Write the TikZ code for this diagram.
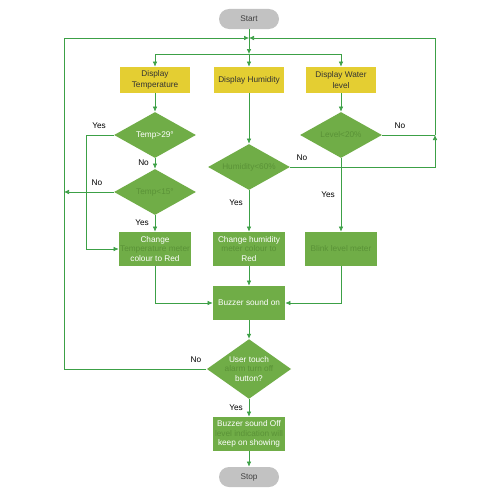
\documentclass[tikz,border=0pt]{standalone}
\usepackage{fontspec}
\setmainfont{Liberation Sans}
\usetikzlibrary{shapes.geometric,arrows.meta}
\definecolor{boxgreen}{RGB}{112,173,71}
\definecolor{linegreen}{RGB}{60,160,70}
\definecolor{dispyellow}{RGB}{228,206,50}
\definecolor{termgray}{RGB}{194,194,194}
\definecolor{faintgreen}{RGB}{90,146,55}
\newcommand{\faint}[1]{\textcolor{faintgreen}{#1}}

\begin{document}
\begin{tikzpicture}[x=0.2mm,y=-0.2mm,
    every node/.style={font=\fontsize{4.7}{5.5}\selectfont},
    box/.style={%
      rectangle,
      fill=boxgreen,
      text=white,
      minimum width=14.4mm,
      minimum height=6.8mm,
      inner sep=0pt,
      align=center,
    },
    dispbox/.style={%
      box,
      fill=dispyellow,
      text=black!80,
      minimum width=14mm,
      minimum height=5.2mm,
      font=\fontsize{4.7}{5.9}\selectfont,
    },
    cond/.style={%
      diamond,
      fill=boxgreen,
      text=white,
      aspect=1.78,
      minimum width=16.4mm,
      minimum height=9.2mm,
      inner sep=0pt,
      align=center,
    },
    term/.style={%
      rectangle,
      rounded corners=2mm,
      fill=termgray,
      text=black!75,
      minimum width=12mm,
      minimum height=4mm,
    },
    line/.style={draw=linegreen, line width=0.35pt},
    arr/.style={line, -{Latex[length=1mm,width=0.9mm]}},
  ]
    \fill[white] (0,0) rectangle (500,500);
    \useasboundingbox (0,0) rectangle (500,500);

    % terminals
    \node [term] (start) at (249,19) {Start};
    \node [term] (stop) at (249,477) {Stop};

    % display boxes
    \node [dispbox] (dtemp) at (155,80) {Display\\Temperature};
    \node [dispbox] (dhum) at (249,80) {Display Humidity};
    \node [dispbox] (dwat) at (341,80) {Display Water\\level};

    % decisions
    \node [cond] (t29) at (155,135) {Temp>29°};
    \node [cond] (t15) at (155,192) {\faint{Temp<15°}};
    \node [cond] (hum) at (249,167) {\faint{Humidity<60\%}};
    \node [cond] (lev) at (341,135) {\faint{Level<20\%}};
    \node [cond, aspect=1.41, minimum height=11.6mm] (touch) at (249,369)
      {User touch\\\faint{alarm turn off}\\button?};

    % actions
    \node [box] (ctemp) at (155,249) {Change\\\faint{Temperature meter}\\colour to Red};
    \node [box] (chum) at (249,249) {Change humidity\\\faint{meter colour to}\\Red};
    \node [box] (blink) at (341,249) {\faint{Blink level meter}};
    \node [box] (buzz) at (249,303) {Buzzer sound on};
    \node [box] (boff) at (249,434) {Buzzer sound Off\\\faint{level indication will}\\keep on showing};

    % junctions
    \coordinate (merge) at (249,38);
    \coordinate (split) at (249,54);
    \coordinate (loopL) at (64,38);
    \coordinate (loopR) at (435,135);
    \coordinate (yesL) at (86,135);

    \draw [line] (start) -- (merge);
    \draw [arr] (merge) -- (split);
    \draw [arr] (split) -| (dtemp);
    \draw [arr] (split) -- (dhum);
    \draw [arr] (split) -| (dwat);

    \draw [arr] (dtemp) -- (t29);
    \draw [arr] (dhum) -- (hum);
    \draw [arr] (dwat) -- (lev);

    \draw [arr] (t29) -- (t15) node [left,pos=0.45] {No};
    \draw [arr] (t29.west) -- (yesL) |- (ctemp.west);
    \node [above] (yesA) at (99,135) {Yes};
    \draw [arr] (t15) -- (ctemp) node [left,pos=0.45] {Yes};
    \draw [arr] (t15.west) -- (t15.west -| loopL);
    \node [above] (noA) at (97,192) {No};

    \draw [arr] (hum) -- (chum) node [left,pos=0.3] {Yes};
    \draw [arr] (hum.east) -| (loopR);
    \node [above] (noB) at (302,167) {No};
    \draw [arr] (lev) -- (blink) node [left,pos=0.5] {Yes};
    \draw [line] (lev.east) -- (loopR);
    \node [above] (noC) at (400,135) {No};
    \draw [arr] (loopR) |- (merge);

    \draw [arr] (ctemp.south) |- (buzz.west);
    \draw [arr] (chum) -- (buzz);
    \draw [arr] (blink.south) |- (buzz.east);
    \draw [arr] (buzz) -- (touch);

    \draw [arr] (touch.west) -| (loopL) -- (merge);
    \node [above] (noD) at (196,369) {No};
    \draw [arr] (touch) -- (boff) node [left,pos=0.5] {Yes};
    \draw [arr] (boff) -- (stop);
\end{tikzpicture}
\end{document}
